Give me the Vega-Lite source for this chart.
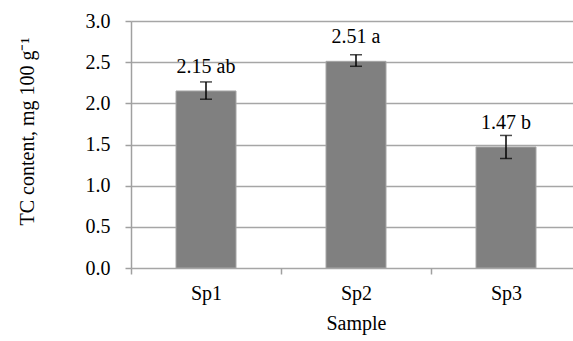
{
  "$schema": "https://vega.github.io/schema/vega-lite/v6.json",
  "autosize": {"type": "none"},
  "width": 450,
  "height": 247,
  "padding": {"left": 131, "top": 21, "right": 0, "bottom": 73},
  "background": "white",
  "config": {
    "view": {"stroke": null},
    "font": "Liberation Serif",
    "axis": {"labelFont": "Liberation Serif", "titleFont": "Liberation Serif", "labelColor": "black", "titleColor": "black", "titleFontWeight": "normal", "labelFontSize": 20, "titleFontSize": 20}
  },
  "data": {
    "values": [
      {"Sample": "Sp1", "TC": 2.15, "lo": 2.05, "hi": 2.26, "label": "2.15 ab"},
      {"Sample": "Sp2", "TC": 2.51, "lo": 2.45, "hi": 2.59, "label": "2.51 a"},
      {"Sample": "Sp3", "TC": 1.47, "lo": 1.33, "hi": 1.61, "label": "1.47 b"}
    ]
  },
  "encoding": {
    "x": {
      "field": "Sample", "type": "nominal",
      "scale": {"paddingInner": 0, "paddingOuter": 0},
      "axis": {"labelAngle": 0, "domain": false, "ticks": true, "tickBand": "extent", "tickColor": "#a0a0a0", "tickWidth": 1.5, "tickSize": 6, "labelPadding": 9, "titlePadding": 10, "grid": false}
    }
  },
  "layer": [
    {
      "mark": {"type": "bar", "width": 60, "color": "#808080", "stroke": "#a6a6a6", "strokeWidth": 1},
      "encoding": {
        "y": {
          "field": "TC", "type": "quantitative",
          "scale": {"domain": [0, 3], "nice": false},
          "title": "TC content, mg 100 g⁻¹",
          "axis": {"values": [0, 0.5, 1, 1.5, 2, 2.5, 3], "format": ".1f", "grid": true, "gridColor": "#a6a6a6", "gridWidth": 1.5, "domainColor": "#a0a0a0", "domainWidth": 1.5, "tickColor": "#a0a0a0", "tickWidth": 1.5, "tickSize": 6, "labelPadding": 15, "titleX": -94, "titleY": 110, "titleAngle": 270, "titleBaseline": "bottom", "titleAlign": "center"}
        }
      }
    },
    {
      "mark": {"type": "rule", "color": "black", "strokeWidth": 1.5},
      "encoding": {"y": {"field": "lo", "type": "quantitative"}, "y2": {"field": "hi"}}
    },
    {
      "mark": {"type": "tick", "color": "black", "thickness": 1.5, "size": 12, "orient": "horizontal"},
      "encoding": {"y": {"field": "lo", "type": "quantitative"}}
    },
    {
      "mark": {"type": "tick", "color": "black", "thickness": 1.5, "size": 12, "orient": "horizontal"},
      "encoding": {"y": {"field": "hi", "type": "quantitative"}}
    },
    {
      "mark": {"type": "text", "font": "Liberation Serif", "fontSize": 20, "dy": -18, "baseline": "alphabetic", "color": "black"},
      "encoding": {"y": {"field": "TC", "type": "quantitative"}, "text": {"field": "label"}}
    }
  ]
}
